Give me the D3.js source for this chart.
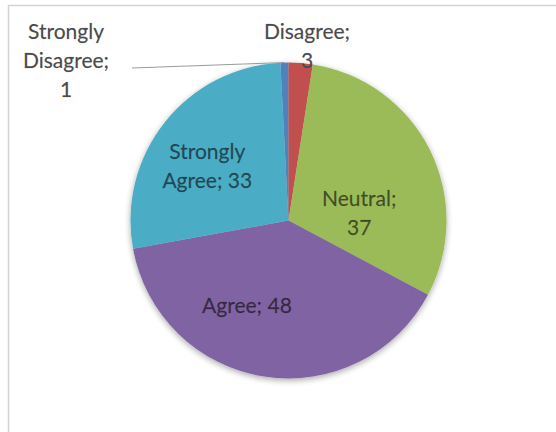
<!DOCTYPE html>
<html>
<head>
<meta charset="utf-8">
<script src="https://cdn.jsdelivr.net/npm/d3@7"></script>
<style>
  html, body { margin: 0; padding: 0; background: #ffffff; }
  svg { display: block; }
</style>
</head>
<body>
<svg id="chart" width="556" height="432"></svg>
<script>
// ---- data ----
const categories = ["Strongly Disagree", "Disagree", "Neutral", "Agree", "Strongly Agree"];
const values = [1, 3, 37, 48, 33];
const colors = ["#4F81BD", "#C0504D", "#9BBB59", "#8064A2", "#4BACC6"];

// ---- layout ----
const W = 556, H = 432;
const cx = 288.5, cy = 220.5, R = 158;
const total = d3.sum(values);
const startOffset = -(values[0] / total) * 2 * Math.PI; // first slice ends at 12 o'clock

// inside label placement (angle in degrees clockwise from top, radius fraction)
const insideLabels = [
  { i: 2, angle: 84, rf: 0.45, lines: ["Neutral;", "37"] },
  { i: 3, angle: 206, rf: 0.60, lines: ["Agree; 48"] },
  { i: 4, angle: 304, rf: 0.62, lines: ["Strongly", "Agree; 33"] }
];

const svg = d3.select("#chart");
const FONT = "Lato, 'Open Sans', sans-serif";
const FS = 21, LH = 29;

// chart frame
svg.append("rect")
  .attr("x", 8.5).attr("y", 5.5)
  .attr("width", W + 10).attr("height", 440)
  .attr("fill", "#ffffff")
  .attr("stroke", "#d4d4d4").attr("stroke-width", 1.5);

const pie = d3.pie().sort(null).value(d => d)
  .startAngle(startOffset).endAngle(startOffset + 2 * Math.PI);
const arcs = pie(values);
const arc = d3.arc().innerRadius(0).outerRadius(R);

const g = svg.append("g").attr("transform", `translate(${cx},${cy})`);

// soft shadow
const defs = svg.append("defs");
const f = defs.append("filter").attr("id", "sh").attr("x", "-20%").attr("y", "-20%").attr("width", "140%").attr("height", "140%");
f.append("feGaussianBlur").attr("in", "SourceAlpha").attr("stdDeviation", 3).attr("result", "b");
f.append("feOffset").attr("in", "b").attr("dx", 0).attr("dy", 2).attr("result", "o");
f.append("feComponentTransfer").attr("in", "o").attr("result", "o2")
  .append("feFuncA").attr("type", "linear").attr("slope", 0.35);
const fm = f.append("feMerge");
fm.append("feMergeNode").attr("in", "o2");
fm.append("feMergeNode").attr("in", "SourceGraphic");

const slices = g.append("g").attr("filter", "url(#sh)");
slices.selectAll("path").data(arcs).enter().append("path")
  .attr("d", arc)
  .attr("fill", (d, i) => colors[i])
  .attr("stroke", "none");

// inside labels
insideLabels.forEach(L => {
  const a = L.angle * Math.PI / 180;
  const r = L.rf * R;
  const x = Math.sin(a) * r, y = -Math.cos(a) * r;
  const n = L.lines.length;
  const t = g.append("text")
    .attr("text-anchor", "middle")
    .attr("font-family", FONT).attr("font-size", FS)
    .attr("fill", "#000").attr("fill-opacity", 0.58)
    .attr("stroke", "#000").attr("stroke-opacity", 0.3).attr("stroke-width", 0.4);
  L.lines.forEach((s, k) => {
    t.append("tspan").attr("x", x)
      .attr("y", y + (k - (n - 1) / 2) * LH + FS * 0.35)
      .text(s);
  });
});

// outside labels
function outsideLabel(x, yFirst, lines) {
  const t = svg.append("text")
    .attr("text-anchor", "middle")
    .attr("font-family", FONT).attr("font-size", FS)
    .attr("fill", "#4a4a4a")
    .attr("stroke", "#4a4a4a").attr("stroke-opacity", 0.4).attr("stroke-width", 0.4);
  lines.forEach((s, k) => {
    t.append("tspan").attr("x", x).attr("y", yFirst + k * LH).text(s);
  });
}

// leader line for Strongly Disagree (to the slice's outer edge)
const sd = arcs[0];
const sdMid = (sd.startAngle + sd.endAngle) / 2;
svg.append("line")
  .attr("x1", 132).attr("y1", 68)
  .attr("x2", cx + Math.sin(sdMid) * R).attr("y2", cy - Math.cos(sdMid) * R)
  .attr("stroke", "#9a9a9a").attr("stroke-width", 1);

outsideLabel(66, 39, ["Strongly", "Disagree;", "1"]);
outsideLabel(307, 39, ["Disagree;", "3"]);
</script>
</body>
</html>
